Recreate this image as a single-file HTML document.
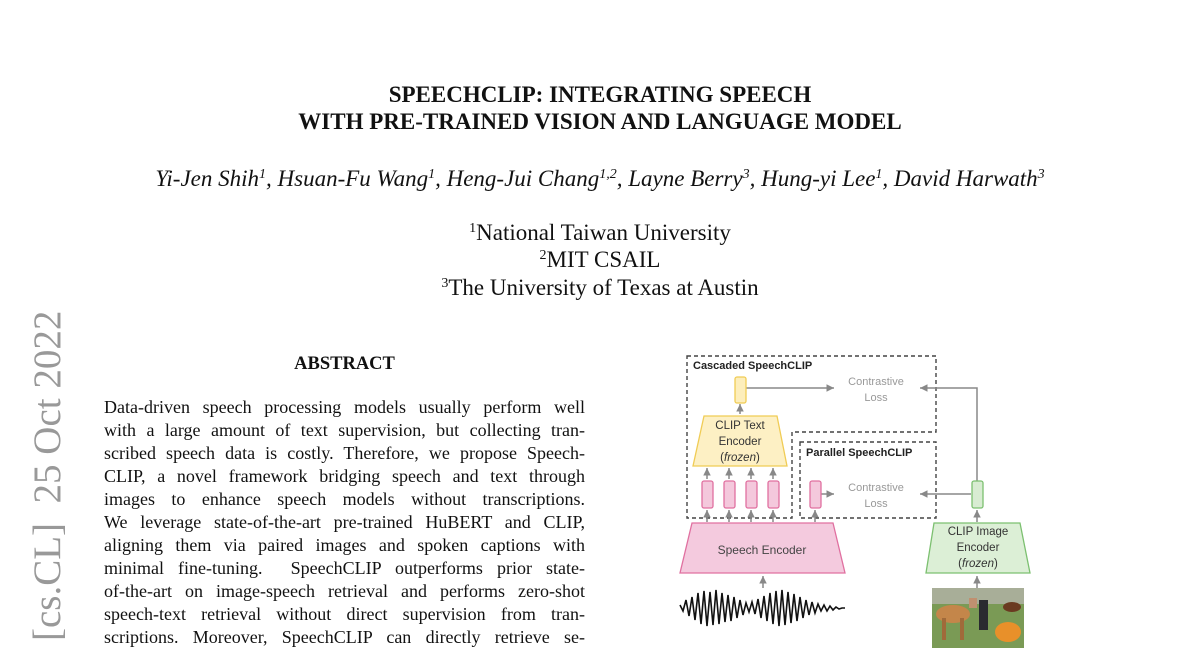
<!DOCTYPE html>
<html><head><meta charset="utf-8">
<style>
*{margin:0;padding:0;box-sizing:border-box}
body{width:1200px;height:648px;overflow:hidden;background:#fff;position:relative;font-family:"Liberation Serif",serif;color:#111}
.c{position:absolute;left:0;width:1200px;text-align:center;white-space:nowrap}
.t{font-weight:bold;font-size:23px}
.au{font-style:italic;font-size:23px}
.af{font-size:23px}
sup{font-size:14px;vertical-align:8px;line-height:0}
.side{position:absolute;left:28px;top:641px;transform-origin:0 0;transform:rotate(-90deg);font-size:39px;color:#999;white-space:nowrap;line-height:40px}
.ab{position:absolute;left:104px;width:481px;font-size:18px;line-height:23px}
.ab div{text-align:justify;text-align-last:justify;height:23px;white-space:nowrap}
</style></head><body>
<div class="c t" style="top:82px">SPEECHCLIP: INTEGRATING SPEECH</div>
<div class="c t" style="top:109px">WITH PRE-TRAINED VISION AND LANGUAGE MODEL</div>
<div class="c au" style="top:166px">Yi-Jen Shih<sup>1</sup>, Hsuan-Fu Wang<sup>1</sup>, Heng-Jui Chang<sup>1,2</sup>, Layne Berry<sup>3</sup>, Hung-yi Lee<sup>1</sup>, David Harwath<sup>3</sup></div>
<div class="c af" style="top:220px"><sup>1</sup>National Taiwan University</div>
<div class="c af" style="top:247px"><sup>2</sup>MIT CSAIL</div>
<div class="c af" style="top:275px"><sup>3</sup>The University of Texas at Austin</div>
<div class="side">[cs.CL]&nbsp; 25 Oct 2022</div>
<div style="position:absolute;left:104px;width:481px;top:354px;text-align:center;font-weight:bold;font-size:18.5px">ABSTRACT</div>
<div class="ab" style="top:396px">
<div>Data-driven speech processing models usually perform well</div>
<div>with a large amount of text supervision, but collecting tran-</div>
<div>scribed speech data is costly. Therefore, we propose Speech-</div>
<div>CLIP, a novel framework bridging speech and text through</div>
<div>images to enhance speech models without transcriptions.</div>
<div>We leverage state-of-the-art pre-trained HuBERT and CLIP,</div>
<div>aligning them via paired images and spoken captions with</div>
<div>minimal fine-tuning.&nbsp; SpeechCLIP outperforms prior state-</div>
<div>of-the-art on image-speech retrieval and performs zero-shot</div>
<div>speech-text retrieval without direct supervision from tran-</div>
<div>scriptions. Moreover, SpeechCLIP can directly retrieve se-</div>
</div>
<svg style="position:absolute;left:0;top:0" width="1200" height="648" font-family="Liberation Sans, sans-serif">
<defs><marker id="a" markerWidth="6" markerHeight="6" refX="5" refY="3" orient="auto"><path d="M0,0.5 L5,3 L0,5.5z" fill="#888"/></marker></defs>
<g fill="none" stroke="#444" stroke-width="1.4" stroke-dasharray="4,3">
<path d="M687,356 H936 V432 H792 V518 H687 Z"/>
<rect x="800" y="442" width="136" height="76"/>
</g>
<text x="693" y="369" font-size="11" font-weight="bold" fill="#222">Cascaded SpeechCLIP</text>
<text x="806" y="456" font-size="11" font-weight="bold" fill="#222">Parallel SpeechCLIP</text>
<g font-size="11" fill="#999" text-anchor="middle">
<text x="876" y="385">Contrastive</text><text x="876" y="401">Loss</text>
<text x="876" y="491">Contrastive</text><text x="876" y="507">Loss</text>
</g>
<g stroke="#888" stroke-width="1.5" fill="none" marker-end="url(#a)">
<line x1="746" y1="388" x2="834" y2="388"/>
<path d="M977,481 V388 H920"/>
<line x1="821" y1="494" x2="834" y2="494"/>
<line x1="971" y1="494" x2="920" y2="494"/>
<line x1="740" y1="414" x2="740" y2="404"/>
<line x1="707" y1="479" x2="707" y2="468"/><line x1="729" y1="479" x2="729" y2="468"/><line x1="751" y1="479" x2="751" y2="468"/><line x1="773" y1="479" x2="773" y2="468"/>
<line x1="707" y1="522" x2="707" y2="510"/><line x1="729" y1="522" x2="729" y2="510"/><line x1="751" y1="522" x2="751" y2="510"/><line x1="773" y1="522" x2="773" y2="510"/>
<line x1="815" y1="522" x2="815" y2="510"/>
<line x1="977" y1="522" x2="977" y2="510"/>
<line x1="763" y1="588" x2="763" y2="576"/>
<line x1="977" y1="588" x2="977" y2="576"/>
</g>
<rect x="735" y="377" width="11" height="26" rx="2" fill="#fdeebb" stroke="#f0cc55" stroke-width="1.3"/>
<path d="M704,416 H777 L787,466 H693 Z" fill="#fdf0c4" stroke="#f0cc55" stroke-width="1.3"/>
<g font-size="11.5" fill="#333" text-anchor="middle"><text x="740" y="429">CLIP Text</text><text x="740" y="445">Encoder</text><text x="740" y="461">(<tspan font-style="italic">frozen</tspan>)</text></g>
<g fill="#f4c8dc" stroke="#e070a0" stroke-width="1.3">
<rect x="702" y="481" width="11" height="27" rx="2"/><rect x="724" y="481" width="11" height="27" rx="2"/><rect x="746" y="481" width="11" height="27" rx="2"/><rect x="768" y="481" width="11" height="27" rx="2"/><rect x="810" y="481" width="11" height="27" rx="2"/>
<path d="M692,523 H833 L845,573 H680 Z" fill="#f4cade"/>
</g>
<text x="762" y="554" font-size="12" fill="#444" text-anchor="middle">Speech Encoder</text>
<rect x="972" y="481" width="11" height="27" rx="2" fill="#d8ecd2" stroke="#7cc070" stroke-width="1.3"/>
<path d="M934,523 H1020 L1030,573 H926 Z" fill="#dcefd6" stroke="#7cc070" stroke-width="1.3"/>
<g font-size="11.5" fill="#333" text-anchor="middle"><text x="978" y="535">CLIP Image</text><text x="978" y="551">Encoder</text><text x="978" y="567">(<tspan font-style="italic">frozen</tspan>)</text></g>
<polyline fill="none" stroke="#111" stroke-width="1.6" points="680,605 683,611 686,600 689,616 692,597 695,620 698,593 701,624 704,591 707,626 710,592 713,625 716,590 719,624 722,593 725,622 728,595 731,621 734,597 737,618 740,600 743,615 746,603 749,612 752,602 755,614 758,599 761,618 764,596 767,621 770,593 773,624 776,591 779,626 782,590 785,625 788,592 791,623 794,594 797,621 800,597 803,618 806,600 809,615 812,602 815,613 818,604 821,611 824,605 827,611 830,606 833,610 836,607 839,609 842,608 845,608"/>
<rect x="932" y="588" width="92" height="60" fill="#7a9a55"/>
<rect x="932" y="588" width="92" height="16" fill="#a8ae98"/>
<ellipse cx="953" cy="614" rx="17" ry="9" fill="#c4864a"/>
<rect x="942" y="618" width="4" height="22" fill="#a06a3a"/><rect x="960" y="618" width="4" height="22" fill="#a06a3a"/>
<rect x="969" y="598" width="8" height="10" fill="#c09070"/>
<rect x="979" y="600" width="9" height="30" fill="#2a2a30"/>
<ellipse cx="1012" cy="607" rx="9" ry="5" fill="#6a3a20"/>
<ellipse cx="1008" cy="632" rx="13" ry="10" fill="#e8902a"/>
</svg>
</body></html>
